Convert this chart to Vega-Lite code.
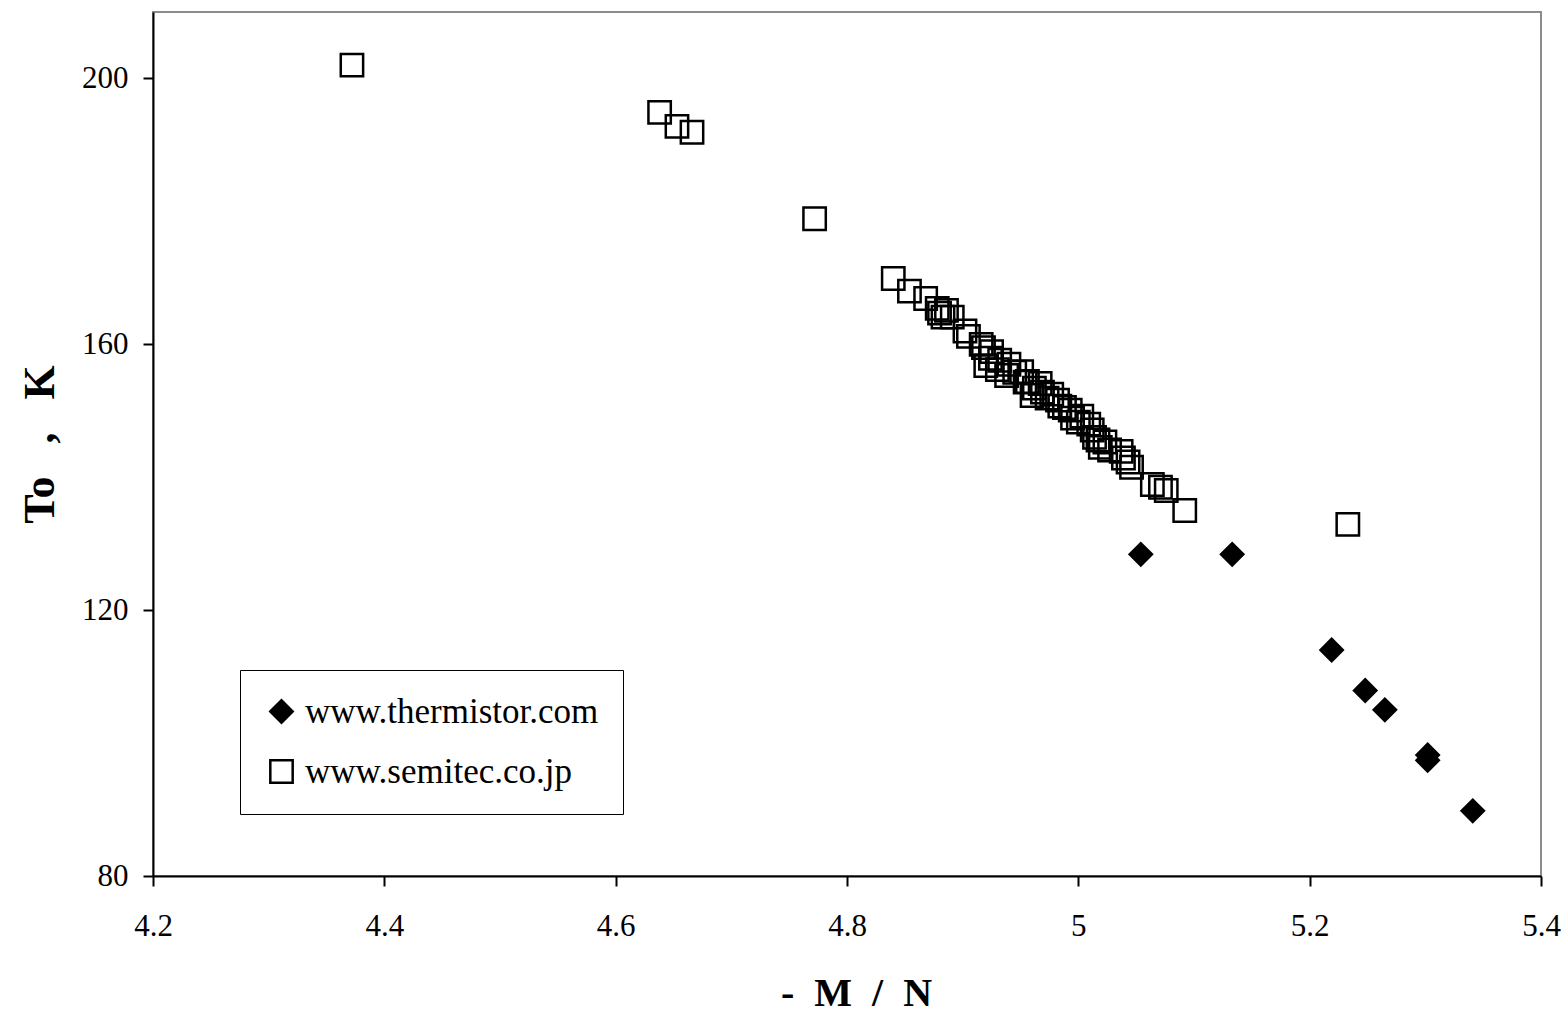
{
  "$schema": "https://vega.github.io/schema/vega-lite/v6.json",
  "width": 1388,
  "height": 864,
  "autosize": {"type": "none"},
  "padding": {"left": 153, "top": 12, "right": 26, "bottom": 139},
  "background": "white",
  "config": {
    "view": {"stroke": "#8c8c8c", "strokeWidth": 2},
    "font": "Liberation Serif",
    "axis": {
      "grid": false,
      "domainColor": "black",
      "domainWidth": 2,
      "tickColor": "black",
      "tickWidth": 2,
      "tickSize": 10,
      "labelFont": "Liberation Serif",
      "labelFontSize": 31,
      "labelColor": "black",
      "titleFont": "Liberation Serif",
      "titleFontSize": 42,
      "titleFontWeight": "bold",
      "titleColor": "black"
    },
    "legend": {
      "strokeColor": "black",
      "labelFont": "Liberation Serif",
      "labelFontSize": 35,
      "labelColor": "black",
      "labelLimit": 0
    }
  },
  "data": {
    "values": [
      {"mn": 4.372, "To": 202.0, "src": "www.semitec.co.jp"},
      {"mn": 4.638, "To": 194.9, "src": "www.semitec.co.jp"},
      {"mn": 4.653, "To": 192.8, "src": "www.semitec.co.jp"},
      {"mn": 4.666, "To": 191.9, "src": "www.semitec.co.jp"},
      {"mn": 4.772, "To": 178.9, "src": "www.semitec.co.jp"},
      {"mn": 4.840, "To": 169.9, "src": "www.semitec.co.jp"},
      {"mn": 4.854, "To": 168.0, "src": "www.semitec.co.jp"},
      {"mn": 4.868, "To": 166.9, "src": "www.semitec.co.jp"},
      {"mn": 4.878, "To": 165.4, "src": "www.semitec.co.jp"},
      {"mn": 4.880, "To": 164.7, "src": "www.semitec.co.jp"},
      {"mn": 4.883, "To": 164.1, "src": "www.semitec.co.jp"},
      {"mn": 4.886, "To": 165.1, "src": "www.semitec.co.jp"},
      {"mn": 4.891, "To": 164.1, "src": "www.semitec.co.jp"},
      {"mn": 4.902, "To": 162.0, "src": "www.semitec.co.jp"},
      {"mn": 4.905, "To": 161.2, "src": "www.semitec.co.jp"},
      {"mn": 4.916, "To": 160.0, "src": "www.semitec.co.jp"},
      {"mn": 4.918, "To": 159.5, "src": "www.semitec.co.jp"},
      {"mn": 4.925, "To": 158.9, "src": "www.semitec.co.jp"},
      {"mn": 4.920, "To": 156.8, "src": "www.semitec.co.jp"},
      {"mn": 4.924, "To": 157.9, "src": "www.semitec.co.jp"},
      {"mn": 4.930, "To": 156.2, "src": "www.semitec.co.jp"},
      {"mn": 4.932, "To": 157.6, "src": "www.semitec.co.jp"},
      {"mn": 4.938, "To": 155.3, "src": "www.semitec.co.jp"},
      {"mn": 4.940, "To": 157.0, "src": "www.semitec.co.jp"},
      {"mn": 4.945, "To": 155.8, "src": "www.semitec.co.jp"},
      {"mn": 4.951, "To": 155.9, "src": "www.semitec.co.jp"},
      {"mn": 4.954, "To": 154.3, "src": "www.semitec.co.jp"},
      {"mn": 4.956, "To": 154.4, "src": "www.semitec.co.jp"},
      {"mn": 4.960, "To": 152.3, "src": "www.semitec.co.jp"},
      {"mn": 4.962, "To": 153.4, "src": "www.semitec.co.jp"},
      {"mn": 4.967, "To": 154.1, "src": "www.semitec.co.jp"},
      {"mn": 4.969, "To": 152.8, "src": "www.semitec.co.jp"},
      {"mn": 4.973, "To": 151.9, "src": "www.semitec.co.jp"},
      {"mn": 4.977, "To": 152.5, "src": "www.semitec.co.jp"},
      {"mn": 4.982, "To": 151.6, "src": "www.semitec.co.jp"},
      {"mn": 4.984, "To": 150.7, "src": "www.semitec.co.jp"},
      {"mn": 4.988, "To": 150.5, "src": "www.semitec.co.jp"},
      {"mn": 4.993, "To": 150.1, "src": "www.semitec.co.jp"},
      {"mn": 4.995, "To": 148.9, "src": "www.semitec.co.jp"},
      {"mn": 5.000, "To": 148.3, "src": "www.semitec.co.jp"},
      {"mn": 5.003, "To": 149.2, "src": "www.semitec.co.jp"},
      {"mn": 5.009, "To": 148.0, "src": "www.semitec.co.jp"},
      {"mn": 5.012, "To": 147.1, "src": "www.semitec.co.jp"},
      {"mn": 5.014, "To": 146.0, "src": "www.semitec.co.jp"},
      {"mn": 5.017, "To": 145.6, "src": "www.semitec.co.jp"},
      {"mn": 5.019, "To": 144.5, "src": "www.semitec.co.jp"},
      {"mn": 5.023, "To": 145.3, "src": "www.semitec.co.jp"},
      {"mn": 5.027, "To": 144.1, "src": "www.semitec.co.jp"},
      {"mn": 5.037, "To": 143.9, "src": "www.semitec.co.jp"},
      {"mn": 5.039, "To": 142.9, "src": "www.semitec.co.jp"},
      {"mn": 5.043, "To": 142.3, "src": "www.semitec.co.jp"},
      {"mn": 5.046, "To": 141.5, "src": "www.semitec.co.jp"},
      {"mn": 5.064, "To": 138.9, "src": "www.semitec.co.jp"},
      {"mn": 5.071, "To": 138.5, "src": "www.semitec.co.jp"},
      {"mn": 5.076, "To": 138.0, "src": "www.semitec.co.jp"},
      {"mn": 5.092, "To": 135.0, "src": "www.semitec.co.jp"},
      {"mn": 5.233, "To": 132.9, "src": "www.semitec.co.jp"},
      {"mn": 5.054, "To": 128.4, "src": "www.thermistor.com"},
      {"mn": 5.133, "To": 128.4, "src": "www.thermistor.com"},
      {"mn": 5.219, "To": 114.0, "src": "www.thermistor.com"},
      {"mn": 5.248, "To": 107.9, "src": "www.thermistor.com"},
      {"mn": 5.265, "To": 105.0, "src": "www.thermistor.com"},
      {"mn": 5.302, "To": 98.2, "src": "www.thermistor.com"},
      {"mn": 5.302, "To": 97.4, "src": "www.thermistor.com"},
      {"mn": 5.341, "To": 89.8, "src": "www.thermistor.com"}
    ]
  },
  "mark": {"type": "point", "strokeWidth": 2.5, "opacity": 1, "size": 500, "strokeJoin": "miter"},
  "encoding": {
    "x": {
      "field": "mn", "type": "quantitative",
      "scale": {"domain": [4.2, 5.4], "nice": false, "zero": false},
      "axis": {
        "title": "-\u00a0 M\u00a0 /\u00a0 N",
        "values": [4.2, 4.4, 4.6, 4.8, 5.0, 5.2, 5.4],
        "format": "~g",
        "labelPadding": 25,
        "labelFlush": false,
        "labelOverlap": false,
        "titleX": 703,
        "titleY": 129,
        "titleFontSize": 40,
        "titleBaseline": "alphabetic",
        "titleAlign": "center"
      }
    },
    "y": {
      "field": "To", "type": "quantitative",
      "scale": {"domain": [80, 210], "nice": false, "zero": false},
      "axis": {
        "title": "To\u00a0\u00a0 ,\u00a0\u00a0 K",
        "values": [80, 120, 160, 200],
        "labelPadding": 15,
        "labelFlush": false,
        "labelOverlap": false,
        "titleX": -113,
        "titleY": 432,
        "titleFontSize": 44,
        "titleAngle": 270,
        "titleBaseline": "middle",
        "titleAlign": "center"
      }
    },
    "shape": {
      "field": "src", "type": "nominal",
      "scale": {"domain": ["www.thermistor.com", "www.semitec.co.jp"], "range": ["diamond", "square"]},
      "legend": {
        "title": null,
        "orient": "none",
        "legendX": 87,
        "legendY": 658,
        "padding": 24,
        "rowPadding": 24,
        "symbolSize": 500,
        "symbolStrokeWidth": 2.5,
        "labelOffset": 6
      }
    },
    "fill": {
      "field": "src", "type": "nominal",
      "scale": {"domain": ["www.thermistor.com", "www.semitec.co.jp"], "range": ["black", "transparent"]},
      "legend": {
        "title": null,
        "orient": "none",
        "legendX": 87,
        "legendY": 658,
        "padding": 24,
        "rowPadding": 24,
        "symbolSize": 500,
        "symbolStrokeWidth": 2.5,
        "labelOffset": 6
      }
    },
    "stroke": {
      "field": "src", "type": "nominal",
      "scale": {"domain": ["www.thermistor.com", "www.semitec.co.jp"], "range": ["black", "black"]},
      "legend": {
        "title": null,
        "orient": "none",
        "legendX": 87,
        "legendY": 658,
        "padding": 24,
        "rowPadding": 24,
        "symbolSize": 500,
        "symbolStrokeWidth": 2.5,
        "labelOffset": 6
      }
    }
  }
}
